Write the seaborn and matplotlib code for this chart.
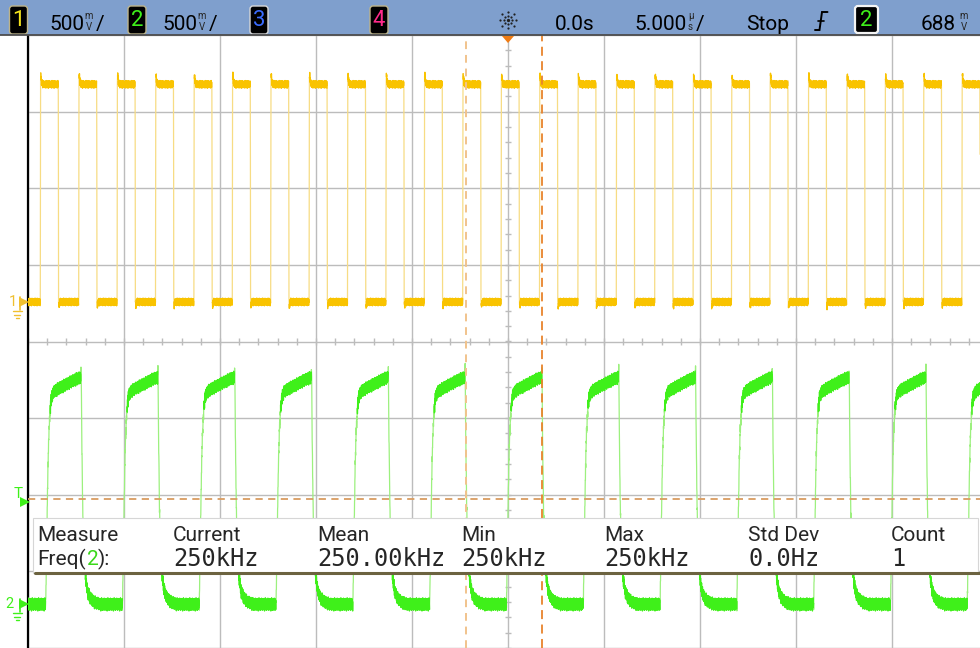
import numpy as np
import pandas as pd
import matplotlib
matplotlib.use("Agg")
import matplotlib.pyplot as plt
import matplotlib.transforms as mtransforms
from matplotlib.patches import Rectangle, FancyBboxPatch
import seaborn as sns

# ---------------- scope settings ----------------
volts_per_div = [0.5, 0.5]          # ch1, ch2
time_per_div_us = 5.0
trigger_level_v = 0.688
ch_offset_div = [0.516, -3.426]     # ground reference of ch1 / ch2 in divisions
cursor_us = [-2.19, 1.77]           # X1 / X2 cursors

# ---------------- channel 1: 500 kHz square wave ----------------
ch1_rise_us = [-24.36, -22.36, -20.36, -18.36, -16.36, -14.36, -12.36, -10.36,
               -8.36, -6.36, -4.36, -2.36, -0.36, 1.64, 3.64, 5.64, 7.64, 9.64,
               11.64, 13.64, 15.64, 17.64, 19.64, 21.64, 23.64]
ch1_fall_us = [-23.42, -21.42, -19.42, -17.42, -15.42, -13.42, -11.42, -9.42,
               -7.42, -5.42, -3.42, -1.42, 0.58, 2.58, 4.58, 6.58, 8.58, 10.58,
               12.58, 14.58, 16.58, 18.58, 20.58, 22.58, 24.58]
# edge shapes: volts vs. µs after the edge starts
ch1_rise_shape_us = [0.0, 0.012, 0.03, 0.07, 0.15]
ch1_rise_shape_v = [0.0, 1.45, 1.48, 1.43, 1.42]
ch1_fall_shape_us = [0.0, 0.012, 0.03, 0.07]
ch1_fall_shape_v = [1.42, 0.02, -0.03, 0.0]
ch1_ripple_mv = [12, -18, 22, -9, 16, -24, 5, 19, -14, 25, -6, -20, 14, 8, -22,
                 18, -3, 23, -16, 10, -11, 20, -25, 7, 15, -8, 24, -19, 2, 17,
                 -13, 21, -4, -21, 11, 6, -17]

# ---------------- channel 2: 250 kHz, RC-shaped ----------------
ch2_rise_us = [-24.08, -20.08, -16.08, -12.08, -8.08, -4.08, -0.08, 3.92, 7.92,
               11.92, 15.92, 19.92, 23.92]
ch2_fall_us = [-22.25, -18.25, -14.25, -10.25, -6.25, -2.25, 1.75, 5.75, 9.75,
               13.75, 17.75, 21.75]
ch2_rise_shape_us = [0.0, 0.04, 0.08, 0.12, 0.17, 0.24, 0.32, 0.45, 0.7, 1.0, 1.3, 1.6, 1.83]
ch2_rise_shape_v = [0.0, 0.28, 0.60, 0.90, 1.12, 1.28, 1.36, 1.39, 1.41, 1.43, 1.45, 1.47, 1.48]
ch2_fall_shape_us = [0.0, 0.02, 0.05, 0.1, 0.15, 0.2, 0.28, 0.36, 0.5, 0.7, 1.0]
ch2_fall_shape_v = [1.48, 1.54, 1.10, 0.62, 0.38, 0.24, 0.14, 0.08, 0.04, 0.015, 0.0]
ch2_ripple_mv = [20, -35, 30, -12, 38, -28, 8, 26, -40, 15, -22, 34, -5, -38, 24,
                 10, -30, 36, -18, 4, 28, -33, 16, -45, 32, -10, 22, -26, 40, -15,
                 6, -36, 18, 30, -20, 12, -42, 26, -8, 35, -24]

# ---------------- measurement readout ----------------
meas_headers = ["Measure", "Current", "Mean", "Min", "Max", "Std Dev", "Count"]
meas_values = ["250kHz", "250.00kHz", "250kHz", "250kHz", "0.0Hz", "1"]

YELLOW = "#f9c300"
YELLOW_EDGE = "#f7dc84"
GREEN = "#3ff01a"
GREEN_EDGE = "#9cf07e"
ORANGE = "#f07c14"

W, H = 980, 648
SANS = ["Roboto", "DejaVu Sans"]
MONO = ["DejaVu Sans Mono"]

sns.set_style("white")
plt.rcParams["font.family"] = SANS

fig = plt.figure(figsize=(W / 100, H / 100), dpi=100)
fig.patch.set_facecolor("white")

# graticule area: 10 x 8 divisions, 96 px per horizontal division
left_px, top_px = 28, 35
px_per_div_x = 96.0
ax = fig.add_axes([left_px / W, 0, (W - left_px) / W, (H - top_px) / H])
x_span = (W - left_px) / px_per_div_x * time_per_div_us
ax.set_xlim(-5 * time_per_div_us, -5 * time_per_div_us + x_span)
ax.set_ylim(-4, 4)


def build_trace(t, rises, falls, r_us, r_v, f_us, f_v, ripple_mv):
    """Return (clean waveform, waveform with ripple) in volts."""
    edges = sorted([(e, "r") for e in rises] + [(e, "f") for e in falls])
    v = np.full(t.shape, f_v[-1], dtype=float)
    for e, kind in edges:
        m = t >= e
        if kind == "r":
            v[m] = np.interp(t[m] - e, r_us, r_v)
        else:
            v[m] = np.interp(t[m] - e, f_us, f_v)
    return v, v + np.resize(np.asarray(ripple_mv) / 1000.0, t.size)


t = np.arange(-25.0, 24.6, 0.008)
clean1, v1 = build_trace(t, ch1_rise_us, ch1_fall_us, ch1_rise_shape_us, ch1_rise_shape_v,
                         ch1_fall_shape_us, ch1_fall_shape_v, ch1_ripple_mv)
clean2, v2 = build_trace(t, ch2_rise_us, ch2_fall_us, ch2_rise_shape_us, ch2_rise_shape_v,
                         ch2_fall_shape_us, ch2_fall_shape_v, ch2_ripple_mv)


def channel_frame(name, v, clean, vdiv, offset, seg_base):
    d = pd.DataFrame({"t_us": t, "div": v / vdiv + offset, "channel": name})
    # fast transitions are drawn dimmer than the settled parts of the trace
    steep = np.abs(np.gradient(clean, t)) > 2.0
    d["settled"] = ~steep
    d["segment"] = seg_base + np.cumsum(steep)
    return d


df = pd.concat([
    channel_frame("1", v1, clean1, volts_per_div[0], ch_offset_div[0], 0),
    channel_frame("2", v2, clean2, volts_per_div[1], ch_offset_div[1], 10**6),
], ignore_index=True)
df_settled = df[df["settled"]]

# graticule
ax.set_xticks(np.arange(-25, 25, 5))
ax.set_yticks(np.arange(-4, 5, 1))
ax.tick_params(length=0, labelbottom=False, labelleft=False)
ax.grid(True, color="#bcbcbc", lw=1.0, zorder=0)
for s in ["top", "right", "bottom"]:
    ax.spines[s].set_visible(False)
ax.spines["left"].set_color("black")
ax.spines["left"].set_linewidth(1.6)
# minor graduations on the centre axes
ax.vlines(np.arange(-25, 25, 1), -0.045, 0.045, color="#bcbcbc", lw=1.0, zorder=1)
ax.hlines(np.arange(-4, 4.01, 0.2), -0.16, 0.16, color="#bcbcbc", lw=1.0, zorder=1)

# full traces in the dim colour, settled parts on top in full colour
sns.lineplot(data=df, x="t_us", y="div", hue="channel",
             palette={"1": YELLOW_EDGE, "2": GREEN_EDGE}, estimator=None, sort=False,
             legend=False, lw=0.9, ax=ax, zorder=3)
sns.lineplot(data=df_settled, x="t_us", y="div", hue="channel", units="segment",
             palette={"1": YELLOW, "2": GREEN}, estimator=None, sort=False,
             legend=False, lw=0.9, ax=ax, zorder=3.5)
ax.set_xlabel("")
ax.set_ylabel("")

# trigger level and time cursors
trig_div = trigger_level_v / volts_per_div[1] + ch_offset_div[1]
ax.axhline(trig_div, color="#d99c60", lw=1.3, ls=(0, (4, 3)), zorder=4)
ax.axvline(cursor_us[0], color="#f1c38c", lw=1.4, ls=(0, (4, 3)), zorder=4)
ax.axvline(cursor_us[1], color="#e8842c", lw=1.3, ls=(0, (5, 3)), zorder=4)

# ---------------- overlay in pixel coordinates ----------------
ov = fig.add_axes([0, 0, 1, 1], zorder=10)
ov.set_xlim(0, W)
ov.set_ylim(H, 0)
ov.axis("off")
ov.patch.set_alpha(0)

# trigger position marker
ov.fill([502, 514, 508], [36, 36, 43], color=ORANGE, lw=0)

# status bar
ov.add_patch(Rectangle((0, 0), W, 35, fc="#7f9fcd", ec="none"))
ov.plot([0, W], [35.3, 35.3], color="#4d4d4d", lw=1.3)


def badge(x0, x1, y0, y1, digit, color, edge, lw=1.0):
    ov.add_patch(FancyBboxPatch((x0, y0), x1 - x0, y1 - y0,
                                boxstyle="round,pad=0,rounding_size=3",
                                fc="black", ec=edge, lw=lw))
    ov.text((x0 + x1) / 2, (y0 + y1) / 2 + 1, digit, color=color, fontsize=16,
            ha="center", va="center", family=SANS)


badge(9.5, 27.5, 6, 34, "1", "#f2e21c", "#bdb48a")
badge(128, 146, 6, 34, "2", "#3ff01a", "#bdb48a")
badge(250, 268, 6, 34, "3", "#3a6cff", "#d8d8d8")
badge(370, 388, 6, 34, "4", "#ff2a8a", "#bdb48a")
badge(855, 878, 6, 33, "2", "#3ff01a", "#f4f4f4", lw=1.6)


def bar_text(x, s, **kw):
    ov.text(x, 30, s, fontsize=15, color="black", ha="left", va="baseline", family=SANS, **kw)


def stacked_unit(x, top, bottom):
    ov.text(x, 19.0, top, fontsize=7, ha="center", va="baseline", family=SANS)
    ov.text(x, 30.0, bottom, fontsize=7, ha="center", va="baseline", family=SANS)


bar_text(49, "500")
stacked_unit(89, "m", "V")
bar_text(96, "/")
bar_text(162, "500")
stacked_unit(202, "m", "V")
bar_text(209, "/")
bar_text(555, "0.0s")
bar_text(634, "5.000")
stacked_unit(690.5, "µ", "s")
bar_text(696, "/")
bar_text(746, "Stop")
bar_text(921, "688")
stacked_unit(964, "m", "V")

# run/acquire starburst icon
for ang in np.deg2rad(np.arange(0, 360, 45)):
    for r in (4, 8):
        ov.plot(508 + r * np.cos(ang), 20 + r * np.sin(ang), "o", ms=1.6, color="#202020", mew=0)
ov.plot(508, 20, "o", ms=2.4, color="#202020", mew=0)

# trigger edge glyph
ov.plot([815, 819.5, 822, 827.5], [30, 30, 12, 12], color="black", lw=1.4, solid_joinstyle="miter")
ov.plot([817.5, 824], [21, 21], color="black", lw=1.2)

# channel ground / trigger markers on the left edge
mk = mtransforms.blended_transform_factory(ov.transData, ax.transData)
g1, g2 = ch_offset_div


def ground_marker(y, label, color, lx):
    ov.text(lx, y, label, color=color, fontsize=10.5, ha="center", va="center",
            transform=mk, family=SANS)
    ov.plot([24], [y], marker=">", ms=7, color=color, mew=0, transform=mk)
    ov.plot([19.5, 19.5], [y + 0.07, y - 0.11], color=color, lw=1.2, transform=mk)
    for dy, half in ((0.12, 4.5), (0.165, 3), (0.21, 1.5)):
        ov.plot([17 - half, 17 + half], [y - dy, y - dy], color=color, lw=1.0, transform=mk)


ground_marker(g1, "1", "#f0c030", 12.5)
ground_marker(g2, "2", "#3ff01a", 9.5)
ov.text(18.5, trig_div + 0.06, "T", color="#3ff01a", fontsize=11, ha="center",
        va="center", transform=mk, family=SANS)
ov.plot([24.5], [trig_div - 0.05], marker=">", ms=6.5, color="#3ff01a", mew=0, transform=mk)

# measurement readout panel
ov.add_patch(Rectangle((33, 518), W - 35, 55, fc="white", ec="#d6d6d6", lw=0.8))
ov.plot([35, W], [573, 573], color="#6c6340", lw=2.2)
col_x = [37, 173, 317, 461, 604, 748, 891]
for x, s in zip(col_x, meas_headers):
    ov.text(x, 541, s, fontsize=15, ha="left", va="baseline", family=SANS)
ov.text(37, 565, "Freq(", fontsize=15, ha="left", va="baseline", family=SANS)
ov.text(86.5, 565, "2", fontsize=15, ha="left", va="baseline", color="#3ad81a", family=SANS)
ov.text(97.5, 565, "):", fontsize=15, ha="left", va="baseline", family=SANS)
for x, s in zip(col_x[1:], meas_values):
    ov.text(x, 565.5, s, fontsize=17, ha="left", va="baseline", family=MONO)

fig.savefig("out.png", dpi=100, facecolor="white")
